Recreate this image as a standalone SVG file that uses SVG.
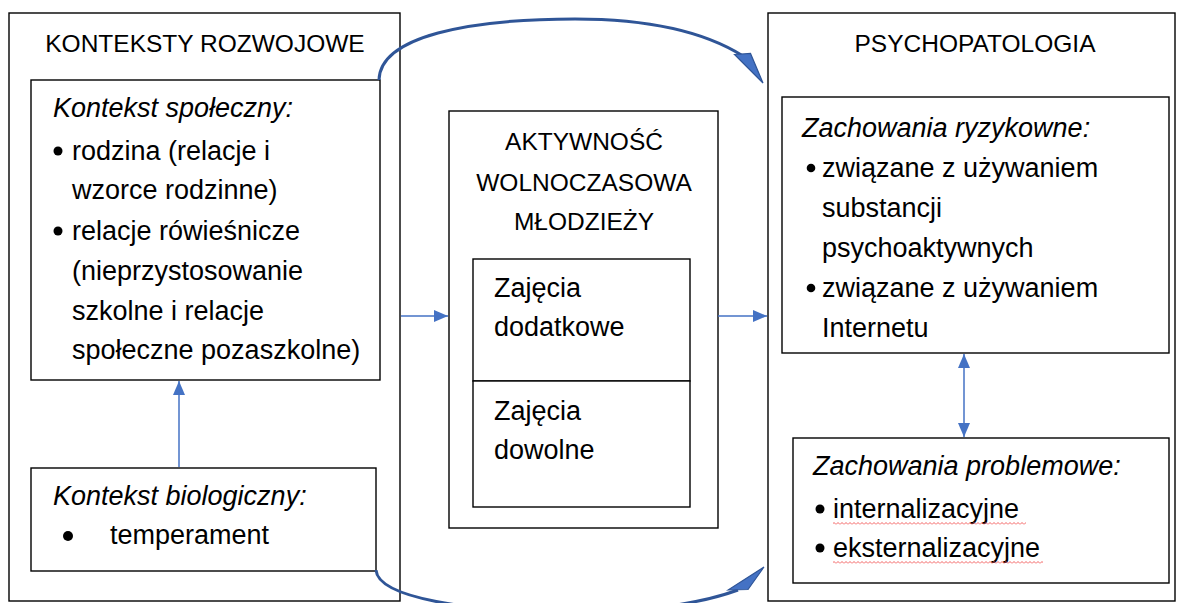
<svg xmlns="http://www.w3.org/2000/svg" width="1178" height="603" viewBox="0 0 1178 603">
<style>
.box{fill:#fff;stroke:#000;stroke-width:1.4}
.t{font-family:"Liberation Sans",Arial,sans-serif;font-size:27px;fill:#000}
.cap{font-family:"Liberation Sans",Arial,sans-serif;font-size:24.5px;fill:#000}
.i{font-style:italic}
.mid{text-anchor:middle}
.conn{stroke:#4472C4;stroke-width:1.5;fill:none}
.curve{stroke:#2F5597;stroke-width:3;fill:none}
.head{fill:#4472C4;stroke:#2F5597;stroke-width:1.2;stroke-linejoin:miter}
</style>
<defs>
<marker id="arr" viewBox="0 0 14 12" refX="14" refY="6" markerWidth="14" markerHeight="12" markerUnits="userSpaceOnUse" orient="auto-start-reverse">
<path d="M0,0 L14,6 L0,12 z" fill="#4472C4"/>
</marker>
<pattern id="squiggle" x="0" y="0" width="4" height="3" patternUnits="userSpaceOnUse">
<path d="M0,2.5 L2,0.5 L4,2.5" fill="none" stroke="#f25050" stroke-width="0.9"/>
</pattern>
</defs>
<rect width="1178" height="603" fill="#fff"/>

<g id="kontekst-rozwojowe">
<rect class="box" x="9" y="13" width="391" height="588"/>
<text class="cap mid" x="205" y="52">KONTEKSTY ROZWOJOWE</text>
</g>

<g id="kontekst-spoleczny">
<rect class="box" x="31" y="80" width="349" height="300"/>
<text class="t i" x="53" y="117">Kontekst społeczny:</text>
<circle cx="58" cy="151" r="4.5"/>
<text class="t" x="72" y="160">rodzina (relacje i</text>
<text class="t" x="72" y="199">wzorce rodzinne)</text>
<circle cx="58" cy="231" r="4.5"/>
<text class="t" x="72" y="240">relacje rówieśnicze</text>
<text class="t" x="72" y="280">(nieprzystosowanie</text>
<text class="t" x="72" y="320">szkolne i relacje</text>
<text class="t" x="72" y="359">społeczne pozaszkolne)</text>
</g>

<g id="kontekst-biologiczny">
<rect class="box" x="31" y="468" width="345" height="103"/>
<text class="t i" x="53" y="505">Kontekst biologiczny:</text>
<circle cx="68" cy="536" r="5"/>
<text class="t" x="110" y="544">temperament</text>
</g>

<g id="aktywnosc">
<rect class="box" x="449" y="111" width="269" height="417"/>
<text class="cap mid" x="584" y="150">AKTYWNOŚĆ</text>
<text class="cap mid" x="584" y="191">WOLNOCZASOWA</text>
<text class="cap mid" x="584" y="230">MŁODZIEŻY</text>
</g>

<g id="zajecia-dodatkowe">
<rect class="box" x="473" y="259" width="217" height="122"/>
<text class="t" x="494" y="297">Zajęcia</text>
<text class="t" x="494" y="336">dodatkowe</text>
</g>

<g id="zajecia-dowolne">
<rect class="box" x="473" y="381" width="217" height="126"/>
<text class="t" x="494" y="420">Zajęcia</text>
<text class="t" x="494" y="459">dowolne</text>
</g>

<g id="psychopatologia">
<rect class="box" x="768" y="13" width="407" height="588"/>
<text class="cap mid" x="975" y="52">PSYCHOPATOLOGIA</text>
</g>

<g id="zachowania-ryzykowne">
<rect class="box" x="782" y="97" width="387" height="256"/>
<text class="t i" x="802" y="137">Zachowania ryzykowne:</text>
<circle cx="811" cy="168" r="4.3"/>
<text class="t" x="822" y="177">związane z używaniem</text>
<text class="t" x="822" y="217">substancji</text>
<text class="t" x="822" y="257">psychoaktywnych</text>
<circle cx="811" cy="288" r="4.3"/>
<text class="t" x="822" y="297">związane z używaniem</text>
<text class="t" x="822" y="337">Internetu</text>
</g>

<g id="zachowania-problemowe">
<rect class="box" x="793" y="438" width="376" height="145"/>
<text class="t i" x="813" y="475">Zachowania problemowe:</text>
<circle cx="820" cy="509" r="4.5"/>
<text class="t" x="833" y="518">internalizacyjne</text>
<rect x="833" y="522" width="193" height="3" fill="url(#squiggle)"/>
<circle cx="820" cy="548" r="4.5"/>
<text class="t" x="833" y="557">eksternalizacyjne</text>
<rect x="833" y="561" width="210" height="3" fill="url(#squiggle)"/>
</g>

<g id="connectors">
<line class="conn" x1="179" y1="467" x2="179" y2="381" marker-end="url(#arr)"/>
<line class="conn" x1="401" y1="316" x2="448" y2="316" marker-end="url(#arr)"/>
<line class="conn" x1="718" y1="316" x2="767" y2="316" marker-end="url(#arr)"/>
<line class="conn" x1="964" y1="354" x2="964" y2="437" marker-start="url(#arr)" marker-end="url(#arr)"/>
<path class="curve" d="M379,80 C380,36 470,19 575,19 C650,19 705,32 743,56"/>
<polygon class="head" points="734.5,54.5 750.5,53.5 763,83"/>
<path class="curve" d="M376,570 C378,598 470,612 570,612 C650,612 705,602 738,590"/>
<polygon class="head" points="728,590 748,589.5 764,567"/>
</g>
</svg>
